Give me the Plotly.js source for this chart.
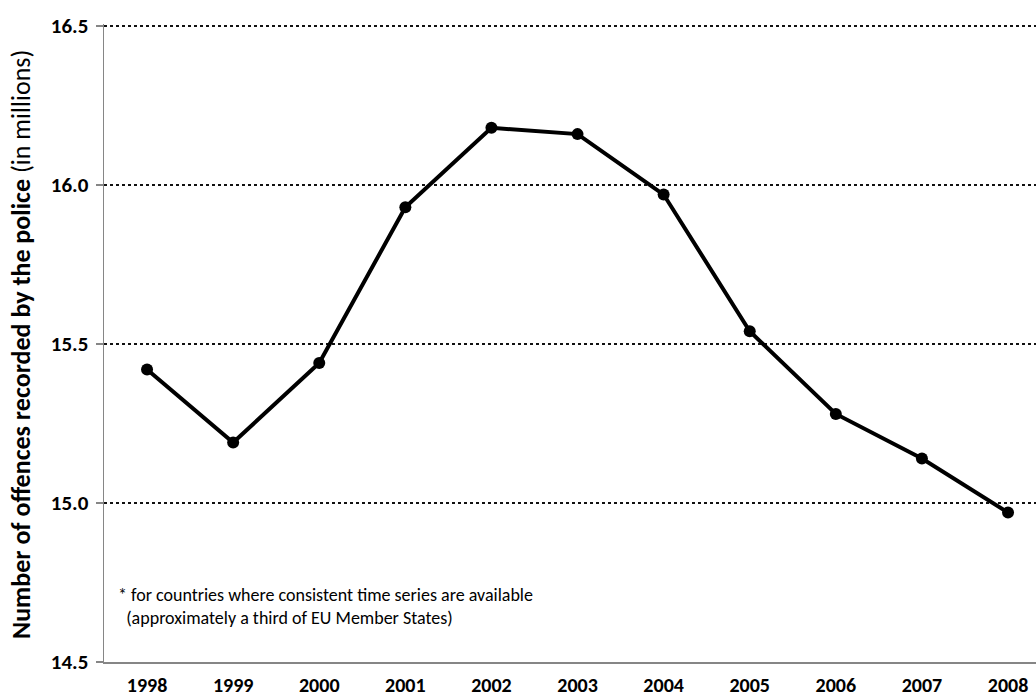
<!DOCTYPE html>
<html>
<head>
<meta charset="utf-8">
<script src="https://cdn.plot.ly/plotly-3.0.1.min.js"></script>
<style>html,body{margin:0;padding:0;background:#fff}#chart{width:1036px;height:700px}</style>
</head>
<body>
<div id="chart"></div>
<script>
const years = ["1998","1999","2000","2001","2002","2003","2004","2005","2006","2007","2008"];
const offences = [15.42, 15.19, 15.44, 15.93, 16.18, 16.16, 15.97, 15.54, 15.28, 15.14, 14.97];
const yTicks = [14.5, 15.0, 15.5, 16.0, 16.5];
const yTickLabels = ["14.5", "15.0", "15.5", "16.0", "16.5"];
const yTitle = "<b>Number of offences recorded by the police</b> (in millions)";
const note = "* for countries where consistent time series are available<br>  (approximately a third of EU Member States)";

const FONT = "Carlito, Calibri, Lato, 'Liberation Sans', sans-serif";

const trace = {
  x: years, y: offences, type: "scatter", mode: "lines+markers",
  line: {color: "#000", width: 4},
  marker: {color: "#000", size: 12},
  hoverinfo: "skip"
};

// plot area: 104..1036 px horizontally, 24..662 px vertically
const plotH = 700 - 24 - 38;
const pxPerUnit = 318;
const yTop = 14.5 + plotH / pxPerUnit;

const layout = {
  width: 1036, height: 700,
  margin: {l: 104, r: 0, t: 24, b: 38, pad: 0},
  paper_bgcolor: "#fff", plot_bgcolor: "#fff",
  showlegend: false,
  font: {family: FONT, color: "#000", size: 16},
  xaxis: {
    type: "category",
    range: [-0.5, 10.325],
    tickvals: years, ticktext: years.map(t => "<b>" + t + "</b>"),
    showgrid: false, zeroline: false,
    showline: true, linecolor: "#868686", linewidth: 1.5,
    ticks: "", ticklabelstandoff: 4,
    tickfont: {family: FONT, size: 20, color: "#000"}
  },
  yaxis: {
    range: [14.5, yTop],
    tickvals: yTicks, ticktext: yTickLabels.map(t => "<b>" + t + "</b>"),
    showgrid: true, gridcolor: "#111", gridwidth: 2, griddash: "dot",
    zeroline: false,
    showline: true, linecolor: "#868686", linewidth: 1.5,
    ticks: "outside", ticklen: 7, tickcolor: "#868686", tickwidth: 1.5,
    ticklabelstandoff: 3,
    tickfont: {family: FONT, size: 21, color: "#000"}
  },
  annotations: [
    {
      text: yTitle, xref: "paper", yref: "paper",
      x: -83 / 932, y: (662 - 345) / plotH, xanchor: "center", yanchor: "middle",
      textangle: -90, showarrow: false,
      font: {family: FONT, size: 26, color: "#000"}
    },
    {
      text: note, xref: "paper", yref: "paper",
      x: 12 / 932, y: (662 - 582) / plotH, xanchor: "left", yanchor: "top",
      align: "left", showarrow: false,
      font: {family: FONT, size: 18, color: "#000"}
    }
  ]
};

Plotly.newPlot("chart", [trace], layout, {displayModeBar: false, staticPlot: true});
</script>
</body>
</html>
